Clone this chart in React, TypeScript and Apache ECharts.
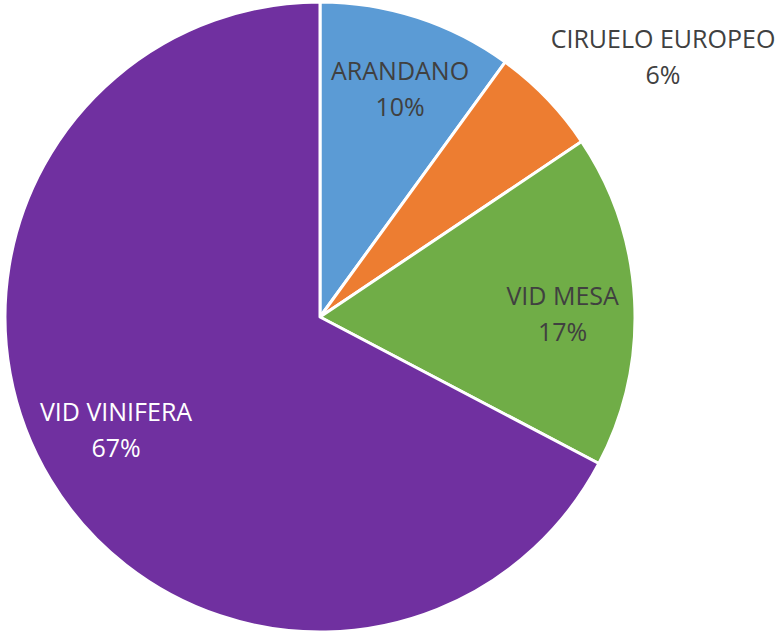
import React, { useEffect, useRef } from "react";
import * as echarts from "echarts";

const categories = ["ARANDANO", "CIRUELO EUROPEO", "VID MESA", "VID VINIFERA"];
const values = [10.0, 5.6, 17.1, 67.3];
const colors = ["#5B9BD5", "#ED7D31", "#70AD47", "#7030A0"];
const labelColors = ["#404040", "#404040", "#404040", "#FFFFFF"];

export default function App() {
  const ref = useRef<HTMLDivElement>(null);
  useEffect(() => {
    document.body.style.margin = "0";
    const chart = echarts.init(ref.current!, null, { renderer: "svg" });
    const data = categories.map((name, i) => ({
      name,
      value: values[i],
      itemStyle: { color: colors[i] },
    }));
    const labelStyle = {
      color: "#404040",
      fontFamily: "Open Sans",
      fontSize: 25,
      lineHeight: 36,
      align: "center" as const,
      textBorderWidth: 0,
      textBorderColor: "transparent",
      textShadowBlur: 0,
    };
    chart.setOption({
      animation: false,
      backgroundColor: "#ffffff",
      series: [
        {
          type: "pie",
          center: [320, 317],
          radius: [0, 315],
          startAngle: 90,
          clockwise: true,
          silent: true,
          label: { show: false },
          labelLine: { show: false },
          itemStyle: { borderColor: "#ffffff", borderWidth: 3 },
          emphasis: { disabled: true },
          data,
        },
        {
          type: "pie",
          center: [320, 317],
          radius: [165, 315],
          startAngle: 90,
          clockwise: true,
          silent: true,
          percentPrecision: 0,
          itemStyle: { color: "transparent", borderWidth: 0 },
          emphasis: { disabled: true },
          label: {
            show: true,
            position: "inside",
            formatter: "{b}\n{d}%",
            ...labelStyle,
          },
          labelLine: { show: false },
          labelLayout: (p: any) => {
            if (p.dataIndex === 1)
              return { x: 663, y: 56, align: "center", verticalAlign: "middle" };
            if (p.dataIndex === 0) return { dx: 5, dy: 2 };
            if (p.dataIndex === 2) return { dy: 9 };
            if (p.dataIndex === 3) return { dx: 4, dy: -14 };
            return {};
          },
          data: categories.map((name, i) => ({
            name,
            value: values[i],
            itemStyle: { color: "transparent" },
            label: { color: labelColors[i] },
          })),
        },
      ],
    });
    return () => chart.dispose();
  }, []);
  return <div ref={ref} style={{ width: 777, height: 632 }} />;
}
